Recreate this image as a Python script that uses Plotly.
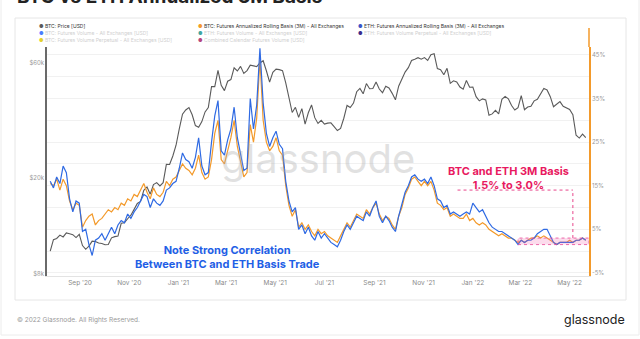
import math
import pandas as pd
import plotly.graph_objects as go

# ---- data (4-day sampling) ----
dates = pd.date_range("2020-07-26", periods=167, freq="4D")

btc_price = [
    9950, 11100, 11230, 11600, 11400, 11850, 11760, 11650, 11330, 11680,
    10500, 10130, 10440, 10950, 10920, 10750, 10700, 10580, 10600, 11300,
    11430, 11500, 12990, 13060, 13560, 14030, 14830, 15700, 15990, 17800,
    18370, 17150, 18800, 19150, 18550, 19140, 22800, 22760, 24700, 27360,
    32000, 36800, 38300, 39200, 36600, 33000, 32500, 34300, 37600, 39200,
    47900, 47900, 55900, 48500, 46100, 50400, 51200, 57300, 55600, 58100,
    54300, 55800, 58800, 58200, 58000, 60000, 61300, 55700, 50000, 54900,
    56600, 56300, 55800, 49600, 42900, 37400, 39300, 35700, 38800, 33500,
    37300, 40200, 35600, 33700, 34700, 33500, 33800, 33900, 32700, 31500,
    32100, 35400, 40000, 39200, 40900, 45600, 47100, 44700, 49300, 46900,
    47000, 50000, 46800, 45200, 48100, 47300, 44900, 42200, 48100, 51500,
    55000, 57400, 61500, 62200, 63100, 62200, 63200, 61500, 64900, 65500,
    56900, 56300, 53600, 57000, 49400, 50600, 50100, 47700, 46700, 50800,
    47600, 47700, 43500, 41800, 42600, 42200, 36400, 36900, 38200, 36900,
    42400, 43600, 42600, 40000, 38300, 39200, 43900, 38400, 39400, 39700,
    41800, 42400, 44500, 47100, 46400, 43500, 39500, 40500, 41500, 39700,
    39200, 38500, 36600, 30100, 29300, 30400, 29400,
]

btc_basis = [
    15.5, 15.0, 16.5, 14.0, 16.5, 15.0, 11.5, 9.5, 11.0, 10.5,
    5.5, 7.0, 8.0, 8.5, 6.0, 7.0, 7.5, 8.5, 9.5, 9.0,
    10.0, 9.5, 11.0, 10.5, 12.0, 11.5, 13.0, 12.5, 14.0, 15.5,
    13.5, 12.0, 14.5, 13.0, 12.5, 13.5, 16.0, 15.0, 16.5, 17.0,
    18.5, 20.0, 19.0, 18.5, 17.5, 19.0, 22.0, 18.0, 16.5, 17.0,
    21.0, 27.0, 30.0, 21.0, 20.0, 23.0, 26.0, 30.0, 24.0, 20.5,
    17.0, 18.0, 29.0, 25.0, 30.5, 44.0, 30.0, 25.0, 23.0, 24.0,
    26.0, 23.0, 22.0, 15.0, 10.5, 8.0, 9.5, 5.5, 6.5, 5.0,
    6.0, 4.5, 3.5, 5.0, 4.0, 4.5, 3.5, 3.0, 2.5, 2.0,
    3.5, 5.0, 6.5, 5.5, 7.0, 8.5, 8.0, 7.5, 9.5, 8.5,
    10.0, 11.0, 8.5, 7.0, 8.0, 7.5, 6.0, 5.0, 8.0, 10.0,
    13.0, 14.5, 16.5, 17.0, 16.0, 15.0, 16.0, 15.0, 16.0, 14.0,
    11.0, 10.5, 9.5, 10.0, 8.0, 8.5, 8.0, 7.5, 7.5, 8.5,
    7.0, 7.5, 6.5, 6.0, 6.5, 6.0, 5.0, 4.5, 4.0, 3.5,
    4.0, 3.5, 3.0, 3.0, 2.5, 2.0, 2.5, 2.0, 2.5, 3.0,
    3.0, 3.5, 3.0, 3.5, 3.0, 2.5, 2.0, 1.5, 2.0, 2.0,
    2.0, 2.5, 2.0, 2.5, 2.5, 3.0, 2.5,
]

eth_basis = [
    16.0, 14.5, 17.0, 15.5, 19.5, 18.0, 12.0, 9.0, 11.5, 11.0,
    4.5, 5.0, 1.5, -1.0, 2.5, 3.0, 4.0, 2.5, 4.0, 5.5,
    4.0, 6.0, 7.0, 6.5, 8.5, 7.5, 9.0, 10.0, 11.5, 13.0,
    12.5, 10.0, 12.0, 11.0, 10.5, 11.5, 14.0, 14.5, 15.5, 16.0,
    19.0, 22.5, 21.0, 20.5, 19.0, 21.5, 26.0, 19.5, 17.5, 18.0,
    25.0, 31.0, 34.5, 23.0, 22.0, 25.5, 28.0, 33.0, 26.0, 22.0,
    18.5, 19.0, 35.0, 28.0, 33.5, 46.5, 34.0, 27.0, 24.0, 26.0,
    27.5, 24.5, 23.5, 16.0, 11.5, 9.0, 10.0, 5.0, 6.0, 4.0,
    5.5, 3.5, 2.5, 4.5, 3.0, 4.0, 3.0, 2.0, 1.5, 1.0,
    2.5, 4.5, 6.0, 5.0, 6.5, 8.0, 7.5, 7.0, 9.0, 8.0,
    10.0, 11.5, 8.0, 6.5, 8.0, 7.0, 5.5, 4.5, 8.0, 10.5,
    13.5, 15.0, 17.0, 17.5, 16.5, 16.0, 16.5, 15.5, 17.0, 15.0,
    12.0, 11.5, 10.0, 10.5, 8.5, 9.0, 8.5, 8.0, 8.5, 9.0,
    8.5, 11.0, 10.0, 9.0, 9.5, 8.0, 6.5, 5.5, 5.0, 4.5,
    4.5, 4.0, 3.5, 3.0, 2.5, 1.5, 2.5, 2.0, 2.5, 2.5,
    3.0, 4.0, 4.5, 5.0, 5.0, 3.5, 2.0, 1.5, 2.0, 2.0,
    2.0, 2.0, 2.0, 2.5, 2.5, 3.0, 2.5,
]

month_ticks = ["2020-09-01", "2020-11-01", "2021-01-01", "2021-03-01", "2021-05-01",
               "2021-07-01", "2021-09-01", "2021-11-01", "2022-01-01", "2022-03-01",
               "2022-05-01"]
month_labels = ["Sep '20", "Nov '20", "Jan '21", "Mar '21", "May '21", "Jul '21",
                "Sep '21", "Nov '21", "Jan '22", "Mar '22", "May '22"]

price_ticks = [8000, 20000, 60000]
price_labels = ["$8k", "$20k", "$60k"]
basis_ticks = [-5, 5, 15, 25, 35, 45]
basis_labels = ["-5%", "5%", "15%", "25%", "35%", "45%"]

band_low, band_high = 1.5, 3.0

legend_rows = [
    [("#5a5a5a", "BTC: Price [USD]", True),
     ("#f39a2b", "BTC: Futures Annualized Rolling Basis (3M) - All Exchanges", True),
     ("#3a55c8", "ETH: Futures Annualized Rolling Basis (3M) - All Exchanges", True)],
    [("#4a7dff", "BTC: Futures Volume - All Exchanges [USD]", False),
     ("#3fa6a0", "ETH: Futures Volume - All Exchanges [USD]", False),
     ("#3a2c8c", "ETH: Futures Volume Perpetual - All Exchanges [USD]", False)],
    [("#e3d12a", "BTC: Futures Volume Perpetual - All Exchanges [USD]", False),
     ("#b5457d", "Combined Calendar Futures Volume [USD]", False)],
]

# ---- page geometry (pixels) ----
W, H = 640, 339
L, R, T, B = 47, 589, 47, 276
PW, PH = R - L, B - T


def px(xp):
    return (xp - L) / PW


def py(yp):
    return (B - yp) / PH


FONT = "Inter, Roboto, Arial, sans-serif"
ORANGE = "#f39a2b"
BLUE = "#2f6ae3"
GREY = "#5a5a5a"
PINK = "#e8195f"

fig = go.Figure()
fig.add_trace(go.Scatter(x=dates, y=btc_price, yaxis="y", mode="lines",
                         line=dict(color=GREY, width=1.1), showlegend=False))
fig.add_trace(go.Scatter(x=dates, y=btc_basis, yaxis="y2", mode="lines",
                         line=dict(color=ORANGE, width=1.2), showlegend=False))
fig.add_trace(go.Scatter(x=dates, y=eth_basis, yaxis="y2", mode="lines",
                         line=dict(color=BLUE, width=1.2), showlegend=False))

shapes = [
    # outer page frame
    dict(type="rect", xref="paper", yref="paper", x0=px(1), x1=px(639), y0=py(335), y1=py(-5),
         line=dict(color="#ececec", width=1), fillcolor="white", layer="below"),
    # chart card
    dict(type="rect", xref="paper", yref="paper", x0=px(15), x1=px(626), y0=py(300), y1=py(18),
         line=dict(color="#e6e6e6", width=1), fillcolor="white", layer="below"),
    # right axis line extension
    dict(type="line", xref="paper", yref="paper", x0=1, x1=1, y0=1, y1=py(28),
         line=dict(color=ORANGE, width=1.5)),
    # highlighted basis band
    dict(type="rect", xref="x", yref="y2", x0="2022-02-26", x1="2022-05-25",
         y0=band_low, y1=band_high, fillcolor="rgba(240,90,170,0.22)",
         line=dict(color="rgba(232,70,150,0.8)", width=1, dash="dot")),
    dict(type="line", xref="x", yref="y2", x0="2021-12-13", x1="2022-05-05", y0=14, y1=14,
         line=dict(color="#e8458b", width=1, dash="dot")),
    dict(type="line", xref="x", yref="y2", x0="2022-05-05", x1="2022-05-05", y0=band_high, y1=14,
         line=dict(color="#e8458b", width=1, dash="dot")),
]

annotations = [
    dict(text="<b>BTC vs ETH Annualized 3M Basis</b>", xref="paper", yref="paper",
         x=px(15), y=py(-3), xanchor="left", yanchor="middle", showarrow=False,
         font=dict(family=FONT, size=19, color="#222")),
    dict(text="glassnode", xref="paper", yref="paper", x=px(318), y=py(158),
         xanchor="center", yanchor="middle", showarrow=False,
         font=dict(family=FONT, size=40, color="rgba(170,170,170,0.35)")),
    dict(text="<b>Note Strong Correlation<br>Between BTC and ETH Basis Trade</b>",
         xref="paper", yref="paper", x=px(228), y=py(257), xanchor="center", yanchor="middle",
         showarrow=False, align="center", font=dict(family=FONT, size=11, color="#1f5fe6")),
    dict(text="<b>BTC and ETH 3M Basis<br>1.5% to 3.0%</b>",
         xref="paper", yref="paper", x=px(508), y=py(177.5), xanchor="center", yanchor="middle",
         showarrow=False, align="center", font=dict(family=FONT, size=11, color=PINK)),
    dict(text="© 2022 Glassnode. All Rights Reserved.", xref="paper", yref="paper",
         x=px(15), y=py(320), xanchor="left", yanchor="middle", showarrow=False,
         font=dict(family=FONT, size=6.5, color="#999")),
    dict(text="glassnode", xref="paper", yref="paper", x=px(627), y=py(319),
         xanchor="right", yanchor="middle", showarrow=False,
         font=dict(family=FONT, size=12.5, color="#222")),
]

col_x = [37, 196, 356]
row_y = [26, 33, 40]
for r, row in enumerate(legend_rows):
    for c, (dot, label, active) in enumerate(row):
        annotations.append(dict(
            text=f'<span style="color:{dot}">●</span> {label}',
            xref="paper", yref="paper", x=px(col_x[c]), y=py(row_y[r]),
            xanchor="left", yanchor="middle", showarrow=False,
            font=dict(family=FONT, size=5, color="#333" if active else "#cfcfcf")))

fig.update_layout(
    width=W, height=H,
    margin=dict(l=L, r=W - R, t=T, b=H - B),
    paper_bgcolor="white", plot_bgcolor="rgba(0,0,0,0)",
    font=dict(family=FONT),
    xaxis=dict(range=["2020-07-22", "2022-05-25"], tickvals=month_ticks, ticktext=month_labels,
               showgrid=False, zeroline=False, showline=True, linecolor="#e3e3e3",
               ticks="", tickfont=dict(size=6.5, color="#8a8a8a")),
    yaxis=dict(type="log", range=[math.log10(7850), math.log10(69900)],
               tickvals=price_ticks, ticktext=price_labels, showgrid=False, zeroline=False,
               showline=True, linecolor="#6a6a6a", linewidth=1.5, ticks="",
               tickfont=dict(size=6, color="#999")),
    yaxis2=dict(overlaying="y", side="right", range=[-5.7, 46.8], tickvals=basis_ticks,
                ticktext=basis_labels, showgrid=True, gridcolor="#f1f1f1", zeroline=False,
                showline=True, linecolor=ORANGE, linewidth=1.5, ticks="",
                minor=dict(tickvals=[0, 10, 20, 30, 40], showgrid=True, gridcolor="#f1f1f1"),
                tickfont=dict(size=6, color="#999")),
    shapes=shapes,
    annotations=annotations,
    showlegend=False,
)

fig.write_html("out.html")
